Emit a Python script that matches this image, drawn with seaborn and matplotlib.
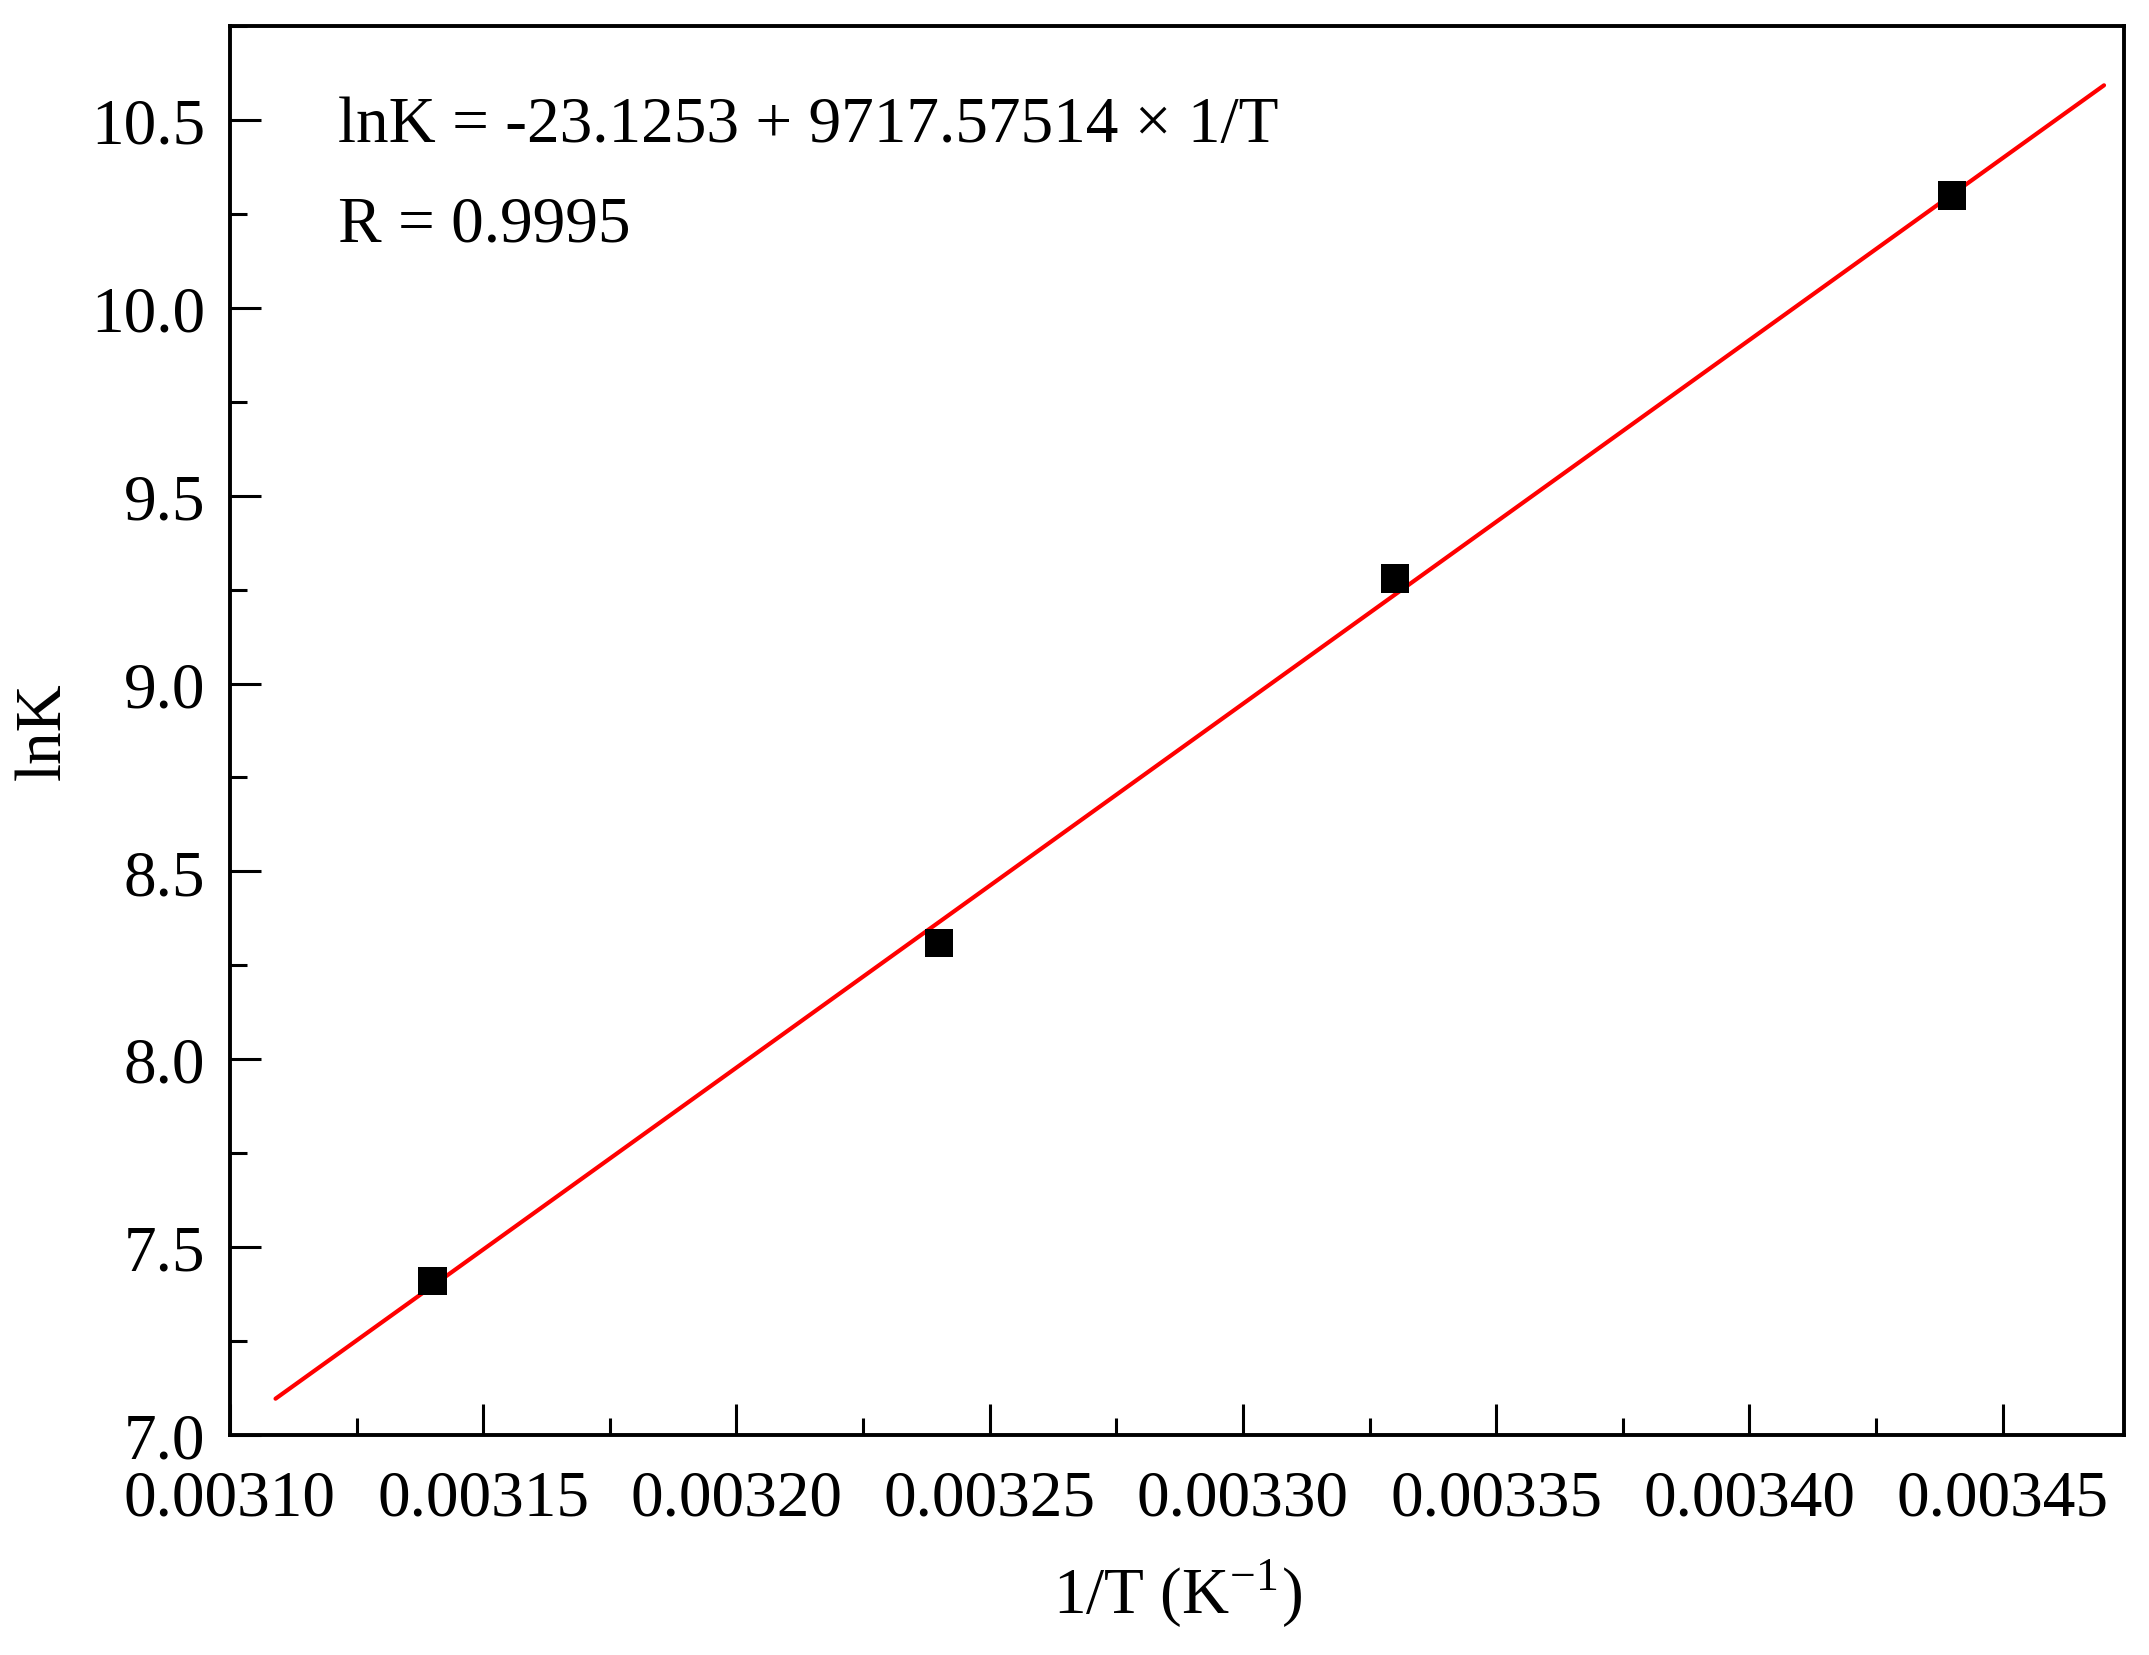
import numpy as np
import pandas as pd
import matplotlib
matplotlib.use("Agg")
import matplotlib.pyplot as plt
import seaborn as sns
from matplotlib.ticker import MultipleLocator, FormatStrFormatter

# Data
inv_T = [0.00314, 0.00324, 0.00333, 0.00344]
lnK = [7.41, 8.31, 9.28, 10.30]

# fitted line end points (lnK = -23.1253 + 9717.57514 * 1/T)
fit_x = [0.003109, 0.00347]
fit_y = [7.096, 10.593]

eq_text = "lnK = -23.1253 + 9717.57514 × 1/T"
r_text = "R = 0.9995"

sns.set_style("ticks")
plt.rcParams["font.family"] = ["Liberation Serif", "DejaVu Serif"]
plt.rcParams["mathtext.fontset"] = "stix"
plt.rcParams["text.color"] = "black"
plt.rcParams["axes.labelcolor"] = "black"
plt.rcParams["xtick.color"] = "black"
plt.rcParams["ytick.color"] = "black"

points = pd.DataFrame({"x": inv_T, "y": lnK})
fit = pd.DataFrame({"x": fit_x, "y": fit_y})

fig = plt.figure(figsize=(21.49, 16.56), dpi=100)
ax = fig.add_axes([0.107, 0.133, 0.8815, 0.8505])

sns.lineplot(data=fit, x="x", y="y", color="red", linewidth=3.0, ax=ax)
sns.scatterplot(data=points, x="x", y="y", marker="s", s=420, color="black",
                edgecolor="none", ax=ax, zorder=3)

ax.set_xlim(0.0031, 0.003474)
ax.set_ylim(7.0, 10.75)

ax.xaxis.set_major_locator(MultipleLocator(0.00005))
ax.xaxis.set_minor_locator(MultipleLocator(0.000025))
ax.xaxis.set_major_formatter(FormatStrFormatter("%.5f"))
ax.yaxis.set_major_locator(MultipleLocator(0.5))
ax.yaxis.set_minor_locator(MultipleLocator(0.25))
ax.yaxis.set_major_formatter(FormatStrFormatter("%.1f"))

for side in ["top", "right", "bottom", "left"]:
    ax.spines[side].set_visible(True)
    ax.spines[side].set_linewidth(2.8)
    ax.spines[side].set_color("black")

ax.tick_params(which="major", direction="in", length=22, width=2.2,
               labelsize=47, top=False, right=False, colors="black")
ax.tick_params(which="minor", direction="in", length=12, width=2.2,
               top=False, right=False, colors="black")
ax.tick_params(axis="x", which="major", pad=25)
ax.tick_params(axis="y", which="major", pad=18)

ax.set_xlabel("1/T (K$^{\\mathregular{-1}}$)", fontsize=47, labelpad=20,
              color="black")
ax.set_ylabel("lnK", fontsize=47, labelpad=12, color="black")

ax.text(0.057, 0.93, eq_text, transform=ax.transAxes, fontsize=47,
        va="center", ha="left", color="black")
ax.text(0.057, 0.859, r_text, transform=ax.transAxes, fontsize=47,
        va="center", ha="left", color="black")

fig.savefig("out.png", dpi=100, facecolor="white")
